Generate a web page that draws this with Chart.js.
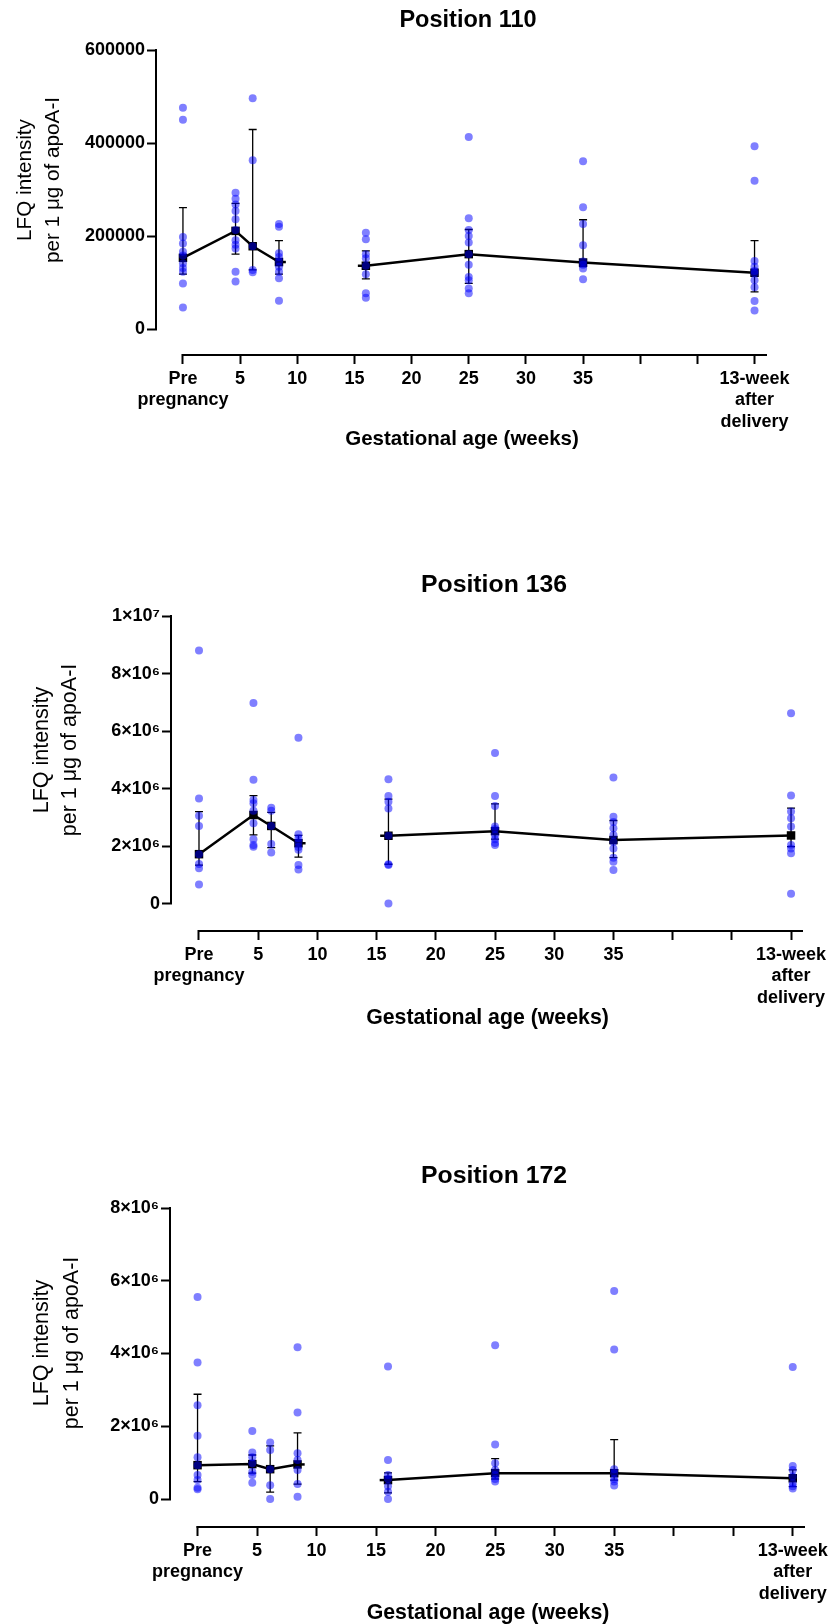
<!DOCTYPE html>
<html>
<head>
<meta charset="utf-8">
<script src="https://cdn.jsdelivr.net/npm/chart.js@4"></script>
<style>
  html, body { margin: 0; padding: 0; background: #fff; }
  body { position: relative; width: 833px; height: 1624px; overflow: hidden; }
  canvas { position: absolute; left: 0; }
</style>
</head>
<body>
<canvas id="pos110" width="833" height="470" style="top:0px;width:833px;height:470px"></canvas>
<canvas id="pos136" width="833" height="490" style="top:550px;width:833px;height:490px"></canvas>
<canvas id="pos172" width="833" height="500" style="top:1140px;width:833px;height:500px"></canvas>
<script>
// Shared x axis (gestational age, weeks)
const weeks = [0, 4.6, 6.1, 8.4, 16, 25, 35, 50];
const weekTicks = [0, 5, 10, 15, 20, 25, 30, 35, 40, 45, 50];
const weekTickLabels = [['Pre', 'pregnancy'], '5', '10', '15', '20', '25', '30', '35', '', '', ['13-week', 'after', 'delivery']];
const lineBreakAfter = 3;   // no connecting line between 8.4 and 16 weeks
const stubEnds = [null, null, null, 9.0, 15.3, null, null, null];

// Position 110
const pos110Values = [
  [476000, 450000, 198000, 184000, 166000, 158000, 141000, 131000, 123000, 98000, 46000],
  [293000, 280000, 268000, 254000, 236000, 213000, 191000, 181000, 173000, 123000, 102000],
  [496000, 363000, 178000, 127000, 122000],
  [226000, 220000, 163000, 155000, 145000, 134000, 123000, 109000, 61000],
  [207000, 193000, 161000, 152000, 136000, 118000, 77000, 67000],
  [413000, 238000, 213000, 200000, 186000, 161000, 138000, 112000, 105000, 87000, 77000],
  [361000, 262000, 226000, 180000, 145000, 138000, 130000, 107000],
  [393000, 319000, 146000, 134000, 125000, 120000, 105000, 90000, 60000, 40000]
];
const pos110Median = [153000, 211000, 178000, 144000, 136000, 161000, 143000, 121000];
const pos110Low = [118000, 161000, 127000, 118000, 108000, 98000, 134000, 80000];
const pos110High = [261000, 270000, 429000, 190000, 168000, 214000, 235000, 190000];
const pos110YTicks = [0, 200000, 400000, 600000];
const pos110YLabels = ['0', '200000', '400000', '600000'];

// Position 136
const pos136Values = [
  [8.80e6, 3.66e6, 3.06e6, 2.71e6, 1.73e6, 1.39e6, 1.24e6, 0.68e6],
  [6.98e6, 4.31e6, 3.61e6, 3.50e6, 3.24e6, 2.80e6, 2.25e6, 2.05e6, 1.99e6],
  [3.34e6, 3.24e6, 2.71e6, 2.08e6, 1.79e6],
  [5.77e6, 2.42e6, 2.28e6, 2.15e6, 1.98e6, 1.88e6, 1.35e6, 1.20e6],
  [4.33e6, 3.75e6, 3.55e6, 3.32e6, 2.37e6, 1.38e6, 1.35e6, 0.02e6],
  [5.24e6, 3.75e6, 3.40e6, 2.69e6, 2.60e6, 2.40e6, 2.25e6, 2.12e6, 2.05e6],
  [4.39e6, 3.03e6, 2.85e6, 2.63e6, 2.40e6, 2.16e6, 1.93e6, 1.61e6, 1.47e6, 1.18e6],
  [6.62e6, 3.77e6, 3.21e6, 2.98e6, 2.69e6, 2.05e6, 1.93e6, 1.76e6, 0.36e6]
];
const pos136Median = [1.73e6, 3.09e6, 2.71e6, 2.11e6, 2.37e6, 2.53e6, 2.22e6, 2.38e6];
const pos136Low = [1.35e6, 2.40e6, 1.96e6, 1.63e6, 1.38e6, 2.25e6, 1.61e6, 1.99e6];
const pos136High = [3.21e6, 3.76e6, 3.18e6, 2.38e6, 3.64e6, 3.48e6, 2.90e6, 3.33e6];
const pos136YTicks = [0, 2e6, 4e6, 6e6, 8e6, 1e7];
const pos136YLabels = ['0', '2×10⁶', '4×10⁶', '6×10⁶', '8×10⁶', '1×10⁷'];

// Position 172
const pos172Values = [
  [5.55e6, 3.75e6, 2.58e6, 1.74e6, 1.15e6, 0.93e6, 0.66e6, 0.52e6, 0.31e6, 0.27e6],
  [1.87e6, 1.28e6, 1.15e6, 0.98e6, 0.75e6, 0.66e6, 0.45e6],
  [1.55e6, 1.35e6, 0.82e6, 0.38e6, 0],
  [4.17e6, 2.38e6, 1.26e6, 1.07e6, 0.80e6, 0.41e6, 0.06e6],
  [3.64e6, 1.07e6, 0.66e6, 0.55e6, 0.35e6, 0.20e6, 0],
  [4.23e6, 1.50e6, 0.98e6, 0.80e6, 0.66e6, 0.55e6, 0.48e6],
  [5.72e6, 4.11e6, 0.82e6, 0.71e6, 0.55e6, 0.48e6, 0.37e6],
  [3.63e6, 0.91e6, 0.80e6, 0.62e6, 0.43e6, 0.35e6, 0.29e6]
];
const pos172Median = [0.93e6, 0.96e6, 0.82e6, 0.95e6, 0.52e6, 0.71e6, 0.71e6, 0.57e6];
const pos172Low = [0.48e6, 0.71e6, 0.19e6, 0.41e6, 0.17e6, 0.55e6, 0.52e6, 0.34e6];
const pos172High = [2.88e6, 1.21e6, 1.46e6, 1.82e6, 0.72e6, 1.11e6, 1.63e6, 0.80e6];
const pos172YTicks = [0, 2e6, 4e6, 6e6, 8e6];
const pos172YLabels = ['0', '2×10⁶', '4×10⁶', '6×10⁶', '8×10⁶'];

const FONT = '"Liberation Sans", Arial, Helvetica, sans-serif';
Chart.defaults.font.family = FONT;
Chart.defaults.color = '#000';

// Prism-style detached axes: y line only over the tick range, x line from the first tick
const offsetAxes = {
  id: 'offsetAxes',
  beforeDatasetsDraw(chart) {
    const { ctx, chartArea, scales: { x, y } } = chart;
    const yTop = y.getPixelForValue(y.ticks[y.ticks.length - 1].value);
    ctx.save();
    ctx.strokeStyle = '#000';
    ctx.lineWidth = 2;
    ctx.beginPath();
    ctx.moveTo(chartArea.left - 1, y.getPixelForValue(0));
    ctx.lineTo(chartArea.left - 1, yTop - 1);
    ctx.moveTo(x.getPixelForValue(0) - 1, chartArea.bottom + 1);
    ctx.lineTo(chartArea.right, chartArea.bottom + 1);
    ctx.stroke();
    ctx.restore();
  }
};

// Error bars plus the short line stubs at the break
const errorBars = {
  id: 'errorBars',
  beforeDatasetsDraw(chart, args, opts) {
    const { ctx, scales: { x, y } } = chart;
    ctx.save();
    ctx.strokeStyle = '#000';
    opts.low.forEach((lo, i) => {
      const px = x.getPixelForValue(weeks[i]);
      const yl = y.getPixelForValue(lo);
      const yh = y.getPixelForValue(opts.high[i]);
      ctx.lineWidth = 1.3;
      ctx.beginPath();
      ctx.moveTo(px, yl); ctx.lineTo(px, yh);
      ctx.moveTo(px - 4, yl); ctx.lineTo(px + 4, yl);
      ctx.moveTo(px - 4, yh); ctx.lineTo(px + 4, yh);
      ctx.stroke();
      if (stubEnds[i] !== null) {
        const py = y.getPixelForValue(opts.center[i]);
        ctx.lineWidth = 2.5;
        ctx.beginPath();
        ctx.moveTo(px, py);
        ctx.lineTo(x.getPixelForValue(stubEnds[i]), py);
        ctx.stroke();
      }
    });
    ctx.restore();
  }
};

// Panel heading and two-line rotated y title
const panelText = {
  id: 'panelText',
  afterDraw(chart, args, opts) {
    const { ctx } = chart;
    ctx.save();
    ctx.fillStyle = '#000';
    ctx.textAlign = 'center';
    ctx.textBaseline = 'alphabetic';
    ctx.font = `bold ${opts.titleSize}px ${FONT}`;
    ctx.fillText(opts.title, opts.titleX, opts.titleBase);
    ctx.font = `${opts.yTitleSize}px ${FONT}`;
    ctx.textBaseline = 'middle';
    ctx.translate(opts.yTitleX, opts.yTitleY);
    ctx.rotate(-Math.PI / 2);
    ['LFQ intensity', 'per 1 μg of apoA-I'].forEach((line, i) => {
      ctx.fillText(line, 0, i * opts.yTitleGap);
    });
    ctx.restore();
  }
};

function makePanel(id, values, median, low, high, yTicks, yLabels, g) {
  const points = values.flatMap((vals, i) => vals.map(v => ({ x: weeks[i], y: v })));
  const centers = weeks.map((w, i) => ({ x: w, y: median[i] }));
  return new Chart(document.getElementById(id), {
    type: 'scatter',
    data: {
      datasets: [
        {
          type: 'scatter',
          data: points,
          order: 0,
          pointRadius: 4,
          pointHoverRadius: 4,
          pointBackgroundColor: 'rgba(0, 0, 255, 0.5)',
          pointBorderWidth: 0,
          clip: false
        },
        {
          type: 'line',
          data: centers,
          order: 1,
          borderColor: '#000',
          borderWidth: 2.5,
          tension: 0,
          pointStyle: 'rect',
          pointRadius: 6,
          pointHoverRadius: 6,
          pointBackgroundColor: '#000',
          pointBorderWidth: 0,
          segment: {
            borderColor: c => c.p0DataIndex === lineBreakAfter ? 'rgba(0,0,0,0)' : '#000'
          },
          clip: false
        }
      ]
    },
    options: {
      responsive: false,
      animation: false,
      events: [],
      layout: { padding: { left: 0, top: g.padTop, right: g.padRight, bottom: g.padBottom } },
      plugins: {
        legend: { display: false },
        tooltip: { enabled: false },
        errorBars: { low: low, high: high, center: median },
        panelText: g.text
      },
      scales: {
        x: {
          type: 'linear',
          min: g.xMin,
          max: g.xMax,
          afterBuildTicks: s => { s.ticks = weekTicks.map(v => ({ value: v })); },
          afterFit: s => { s.height = g.xHeight; },
          ticks: {
            autoSkip: false,
            maxRotation: 0,
            padding: 4,
            font: { size: 18, weight: 'bold', lineHeight: 1.2 },
            color: '#000',
            callback: (v, i) => weekTickLabels[i]
          },
          grid: { drawOnChartArea: false, drawTicks: true, tickLength: 10, tickWidth: 2, tickColor: '#000' },
          border: { display: false },
          title: {
            display: true,
            text: 'Gestational age (weeks)',
            color: '#000',
            font: { size: g.xTitleSize, weight: 'bold', lineHeight: 1.2 },
            padding: { top: 0, bottom: 2 }
          }
        },
        y: {
          type: 'linear',
          min: g.yMin,
          max: g.yMax,
          afterBuildTicks: s => { s.ticks = yTicks.map(v => ({ value: v })); },
          afterFit: s => { s.width = g.yWidth; },
          ticks: {
            padding: 2,
            font: { size: 18, weight: 'bold' },
            color: '#000',
            callback: (v, i) => yLabels[i]
          },
          grid: { drawOnChartArea: false, drawTicks: true, tickLength: 10, tickWidth: 2, tickColor: '#000' },
          border: { display: false }
        }
      }
    },
    plugins: [offsetAxes, errorBars, panelText]
  });
}

makePanel('pos110', pos110Values, pos110Median, pos110Low, pos110High, pos110YTicks, pos110YLabels, {
  padTop: 50, padRight: 66, padBottom: 16, yWidth: 157, xHeight: 100,
  xMin: -2.27, xMax: 51.09, yMin: -53763, yMax: 600000, xTitleSize: 20.5,
  text: { title: 'Position 110', titleX: 468, titleBase: 27, titleSize: 23.5,
          yTitleX: 25, yTitleY: 180, yTitleGap: 28.3, yTitleSize: 20.7 }
});

makePanel('pos136', pos136Values, pos136Median, pos136Low, pos136High, pos136YTicks, pos136YLabels, {
  padTop: 66, padRight: 30, padBottom: 7, yWidth: 172, xHeight: 103,
  xMin: -2.28, xMax: 51.01, yMin: -902778, yMax: 1e7, xTitleSize: 21.3,
  text: { title: 'Position 136', titleX: 494, titleBase: 41.7, titleSize: 24.8,
          yTitleX: 41.7, yTitleY: 200, yTitleGap: 28.3, yTitleSize: 21.5 }
});

makePanel('pos172', pos172Values, pos172Median, pos172Low, pos172High, pos172YTicks, pos172YLabels, {
  padTop: 68, padRight: 28, padBottom: 12, yWidth: 171, xHeight: 102,
  xMin: -2.23, xMax: 51.03, yMin: -742268, yMax: 8e6, xTitleSize: 21.3,
  text: { title: 'Position 172', titleX: 494, titleBase: 43.3, titleSize: 24.8,
          yTitleX: 41.7, yTitleY: 203, yTitleGap: 30, yTitleSize: 21.5 }
});
</script>
</body>
</html>
